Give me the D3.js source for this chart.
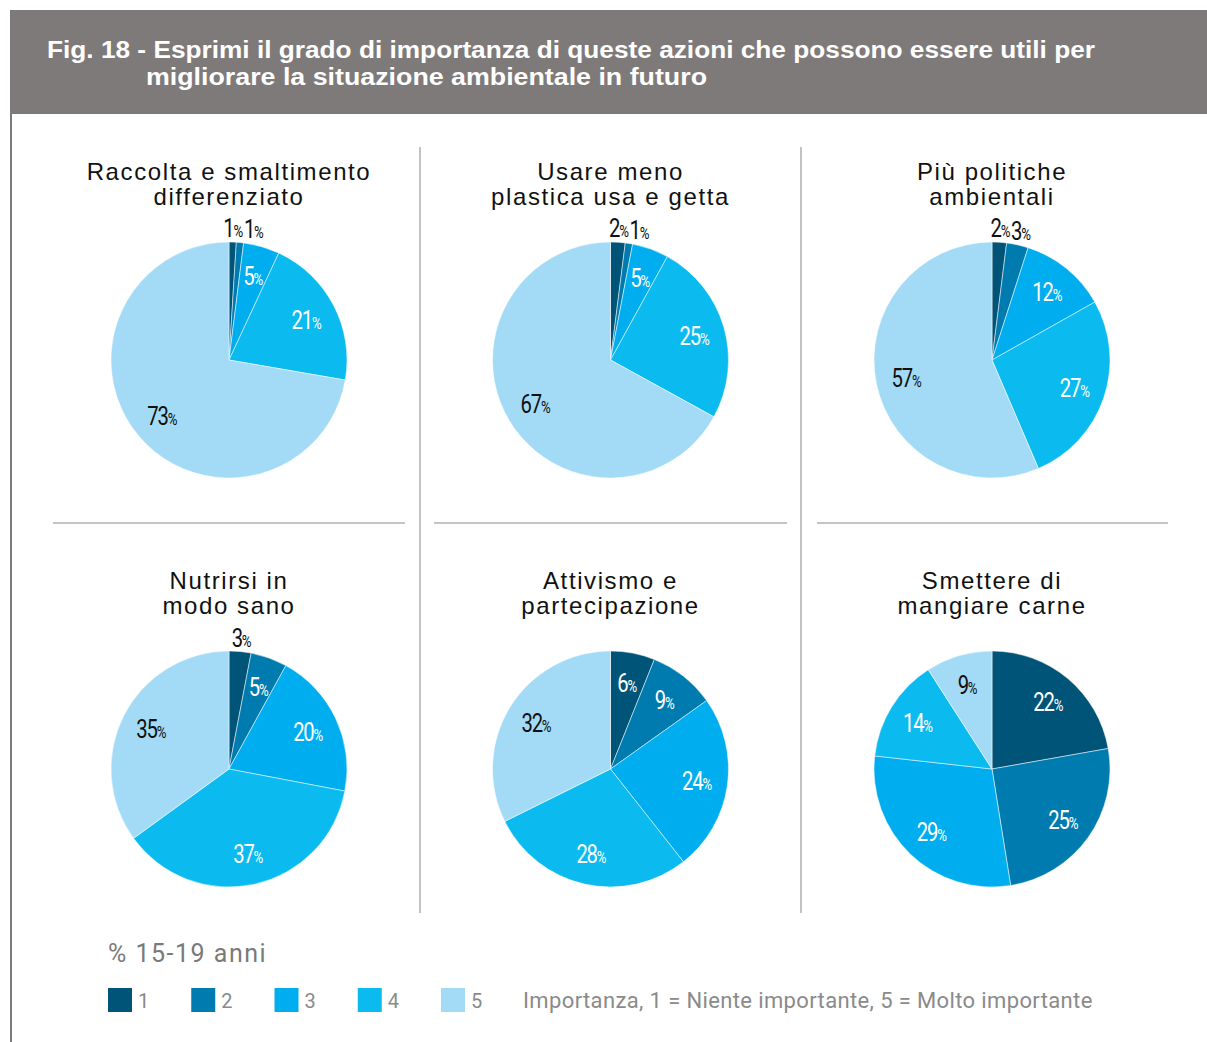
<!DOCTYPE html>
<html>
<head>
<meta charset="utf-8">
<script src="https://cdn.jsdelivr.net/npm/d3@7"></script>
<style>
  body { margin: 0; background: #fff; }
  svg { display: block; }
</style>
</head>
<body>
<svg id="chart"></svg>
<script>
// data (% 15-19 anni)
var categories = ["1", "2", "3", "4", "5"];
var colors = ["#005478", "#007bb0", "#00aeef", "#0bbbef", "#a3dbf7"];

var raccolta   = [1, 1, 5, 21, 73];
var plastica   = [2, 1, 5, 25, 67];
var politiche  = [2, 3, 12, 27, 57];
var nutrirsi   = [3, 5, 20, 37, 35];
var attivismo  = [6, 9, 24, 28, 32];
var carne      = [22, 25, 29, 14, 9];

var titles = [
  ["Raccolta e smaltimento", "differenziato"],
  ["Usare meno", "plastica usa e getta"],
  ["Più politiche", "ambientali"],
  ["Nutrirsi in", "modo sano"],
  ["Attivismo e", "partecipazione"],
  ["Smettere di", "mangiare carne"]
];
var series = [raccolta, plastica, politiche, nutrirsi, attivismo, carne];

var svgWidth = 1207, svgHeight = 1042;
var svg = d3.select("#chart")
    .attr("width", svgWidth)
    .attr("height", svgHeight);

var grey = "#7f7a7a";
var labelFont = "Roboto, 'Liberation Sans', sans-serif";
var squeeze = 0.78;   // fake condensed face

// header band
svg.append("rect")
    .attr("x", 10).attr("y", 10)
    .attr("width", svgWidth - 10).attr("height", 104)
    .attr("fill", grey);

var head = svg.append("text")
    .attr("fill", "#fff")
    .attr("font-family", "'Liberation Sans', Arial, sans-serif")
    .attr("font-weight", "bold")
    .attr("font-size", 23);
head.append("tspan").attr("x", 47).attr("y", 58)
    .attr("textLength", 1048).attr("lengthAdjust", "spacingAndGlyphs")
    .text("Fig. 18 - Esprimi il grado di importanza di queste azioni che possono essere utili per");
head.append("tspan").attr("x", 146).attr("y", 85)
    .attr("textLength", 561).attr("lengthAdjust", "spacingAndGlyphs")
    .text("migliorare la situazione ambientale in futuro");

// left border
svg.append("line")
    .attr("x1", 11).attr("x2", 11)
    .attr("y1", 114).attr("y2", svgHeight)
    .attr("stroke", grey).attr("stroke-width", 2);

// grid of panels
var xScale = d3.scalePoint().domain([0, 1, 2]).range([229, 992]);
var yScale = d3.scalePoint().domain([0, 1]).range([360, 769]);
var radius = 118;

// dividers
[420, 801].forEach(function (x) {
  svg.append("line")
      .attr("x1", x).attr("x2", x)
      .attr("y1", 147).attr("y2", 913)
      .attr("stroke", "#9a9a9a").attr("stroke-width", 1.2);
});
[[53, 405], [434, 787], [817, 1168]].forEach(function (d) {
  svg.append("line")
      .attr("x1", d[0]).attr("x2", d[1])
      .attr("y1", 523).attr("y2", 523)
      .attr("stroke", "#8a8a8a").attr("stroke-width", 1.2);
});

var pie = d3.pie().sort(null).value(function (d) { return d; });
var arc = d3.arc().innerRadius(0).outerRadius(radius);

series.forEach(function (values, i) {
  var cx = xScale(i % 3), cy = yScale(Math.floor(i / 3));
  var g = svg.append("g").attr("transform", "translate(" + cx + "," + cy + ")");

  var t = g.append("text")
      .attr("text-anchor", "middle")
      .attr("font-family", "'Liberation Sans', Arial, sans-serif")
      .attr("font-size", 24)
      .attr("letter-spacing", 1.6)
      .attr("fill", "#111");
  t.append("tspan").attr("x", 0).attr("y", -180).text(titles[i][0]);
  t.append("tspan").attr("x", 0).attr("y", -155).text(titles[i][1]);

  var arcs = pie(values);

  g.selectAll("path")
    .data(arcs)
    .enter().append("path")
      .attr("d", arc)
      .attr("fill", function (d, j) { return colors[j]; })
      .attr("stroke", "#fff")
      .attr("stroke-width", 0.5);

  var prevRight = -Infinity;
  arcs.forEach(function (d, j) {
    var mid = (d.startAngle + d.endAngle) / 2;
    var outside = d.data < 4;
    var r = outside ? radius + 14 : radius * 0.74;
    var x = r * Math.sin(mid), y = -r * Math.cos(mid);
    var fill = (outside || j === 4) ? "#111" : "#fff";
    var lab = g.append("text")
        .attr("text-anchor", "middle")
        .attr("font-family", labelFont)
        .attr("fill", fill)
        .attr("letter-spacing", -1.5);
    lab.append("tspan").attr("font-size", 26).text(d.data);
    lab.append("tspan").attr("font-size", 17).attr("letter-spacing", -0.5).text("%");
    var w = lab.node().getComputedTextLength() * squeeze;
    if (outside) {
      x = Math.max(x, prevRight + w / 2 + 1);
      prevRight = x + w / 2;
    }
    lab.attr("transform", "translate(" + x + "," + (y + 9) + ") scale(" + squeeze + ",1)");
  });
});

// legend
svg.append("text")
    .attr("x", 108).attr("y", 962)
    .attr("font-family", "Roboto, 'Liberation Sans', sans-serif")
    .attr("font-size", 25)
    .attr("letter-spacing", 1.5)
    .attr("fill", "#7a7a7a")
    .text("% 15-19 anni");

var legendX = d3.scalePoint().domain(categories).range([108, 441]);
var leg = svg.selectAll(".leg")
  .data(categories)
  .enter().append("g")
    .attr("transform", function (d) { return "translate(" + legendX(d) + ",988)"; });
leg.append("rect")
    .attr("width", 24).attr("height", 24)
    .attr("fill", function (d, j) { return colors[j]; });
leg.append("text")
    .attr("x", 30).attr("y", 20)
    .attr("font-family", "Roboto, 'Liberation Sans', sans-serif")
    .attr("font-size", 20)
    .attr("fill", "#8a8a8a")
    .text(function (d) { return d; });

svg.append("text")
    .attr("x", 523).attr("y", 1008)
    .attr("font-family", labelFont)
    .attr("font-size", 22)
    .attr("letter-spacing", 0.37)
    .attr("fill", "#8a8a8a")
    .text("Importanza, 1 = Niente importante, 5 = Molto importante");
</script>
</body>
</html>
